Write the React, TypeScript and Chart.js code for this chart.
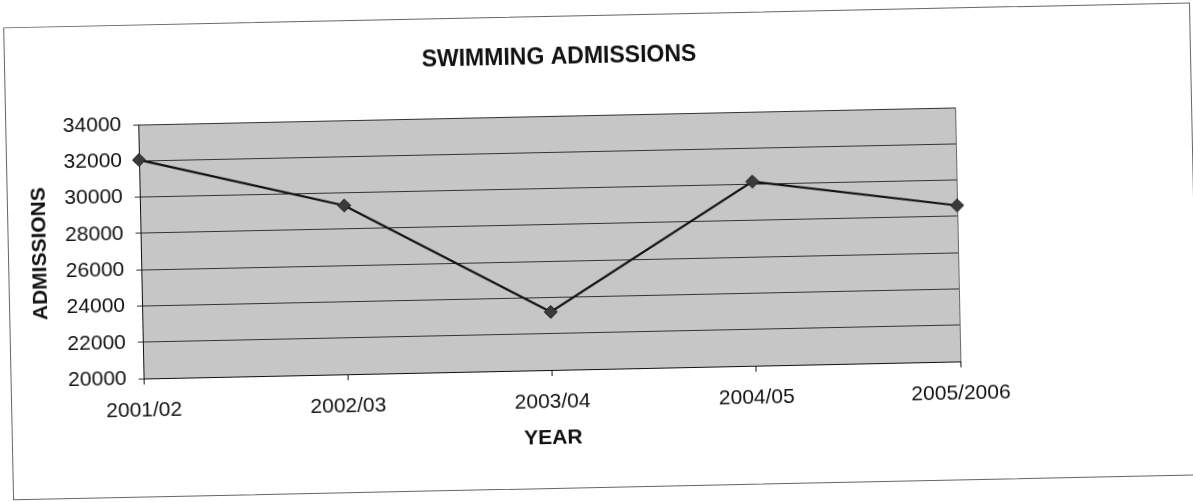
import { useEffect, useRef } from 'react';
import { Chart, registerables } from 'chart.js';

Chart.register(...registerables);

const TITLE = 'SWIMMING ADMISSIONS';
const X_TITLE = 'YEAR';
const Y_TITLE = 'ADMISSIONS';
const YEARS = ['2001/02', '2002/03', '2003/04', '2004/05', '2005/2006'];
const ADMISSIONS = [32050, 29300, 23200, 30150, 28600];
const Y_MIN = 20000;
const Y_MAX = 34000;
const Y_STEP = 2000;

const FONT = '"Liberation Sans", Arial, Helvetica, sans-serif';

export default function App() {
  const ref = useRef<HTMLCanvasElement>(null);

  useEffect(() => {
    const canvas = ref.current;
    if (!canvas) return;

    const plotBg = {
      id: 'plotBg',
      beforeDraw(chart: any) {
        const { ctx, chartArea: a } = chart;
        ctx.save();
        ctx.fillStyle = '#c6c6c6';
        ctx.fillRect(a.left, a.top, a.right - a.left, a.bottom - a.top);
        ctx.strokeStyle = '#6a6a6a';
        ctx.lineWidth = 1;
        ctx.strokeRect(a.left + 0.5, a.top + 0.5, a.right - a.left, a.bottom - a.top);
        ctx.restore();
      },
    };

    const excelTitle = {
      id: 'excelTitle',
      afterDraw(chart: any) {
        const { ctx } = chart;
        ctx.save();
        ctx.font = `bold 23px ${FONT}`;
        ctx.fillStyle = '#111';
        ctx.textAlign = 'center';
        ctx.textBaseline = 'middle';
        ctx.fillText(TITLE, 563, 57);
        ctx.restore();
      },
    };

    const chart = new Chart(canvas, {
      type: 'line',
      data: {
        labels: YEARS,
        datasets: [
          {
            label: Y_TITLE,
            data: ADMISSIONS,
            borderColor: '#111',
            borderWidth: 2.2,
            pointStyle: 'rectRot',
            pointRadius: 6.5,
            pointBackgroundColor: '#3a3a3a',
            pointBorderColor: '#222',
            pointBorderWidth: 1,
            tension: 0,
            fill: false,
          },
        ],
      },
      options: {
        animation: false,
        responsive: true,
        maintainAspectRatio: false,
        layout: { padding: { left: 10, top: 115, right: 235, bottom: 40 } },
        plugins: {
          legend: { display: false },
          title: { display: false },
          tooltip: { enabled: false },
        },
        scales: {
          x: {
            type: 'category',
            offset: false,
            afterFit(scale: any) {
              scale.height = 93;
            },
            grid: {
              display: true,
              drawOnChartArea: false,
              drawTicks: true,
              tickLength: 6,
              color: '#111',
            },
            border: { display: true, color: '#111', width: 1 },
            ticks: {
              color: '#111',
              padding: 14,
              maxRotation: 0,
              autoSkip: false,
              font: { family: FONT, size: 21, lineHeight: 1.2 },
            },
            title: {
              display: true,
              text: X_TITLE,
              color: '#111',
              padding: { top: 0, bottom: 12.4 },
              font: { family: FONT, size: 21, weight: 'bold', lineHeight: 1.2 },
            },
          },
          y: {
            type: 'linear',
            min: Y_MIN,
            max: Y_MAX,
            afterFit(scale: any) {
              scale.width = 131;
            },
            grid: {
              display: true,
              drawOnChartArea: true,
              drawTicks: true,
              tickLength: 5,
              color: '#333',
              lineWidth: 1,
            },
            border: { display: true, color: '#111', width: 1 },
            ticks: {
              stepSize: Y_STEP,
              color: '#111',
              padding: 12,
              callback: (value: any) => String(value),
              font: { family: FONT, size: 21, lineHeight: 1.2 },
            },
            title: {
              display: true,
              text: Y_TITLE,
              color: '#111',
              padding: { top: 17.4, bottom: 0 },
              font: { family: FONT, size: 21, weight: 'bold', lineHeight: 1.2 },
            },
          },
        },
      },
      plugins: [plotBg, excelTitle],
    });

    return () => chart.destroy();
  }, []);

  return (
    <div
      style={{
        position: 'fixed',
        left: 0,
        top: 0,
        width: 1193,
        height: 502,
        overflow: 'hidden',
        background: '#fff',
      }}
    >
      <div
        style={{
          position: 'absolute',
          left: 0,
          top: 0,
          width: 1193,
          height: 502,
          transform: 'rotate(-1.2deg)',
          transformOrigin: '596.5px 251px',
        }}
      >
        <div
          style={{
            position: 'absolute',
            left: 8,
            top: 15,
            width: 1187,
            height: 473,
            border: '1px solid #666',
            boxSizing: 'border-box',
          }}
        />
        <div style={{ position: 'absolute', left: 0, top: 0, width: 1193, height: 502 }}>
          <canvas ref={ref} style={{ display: 'block' }} />
        </div>
      </div>
    </div>
  );
}
